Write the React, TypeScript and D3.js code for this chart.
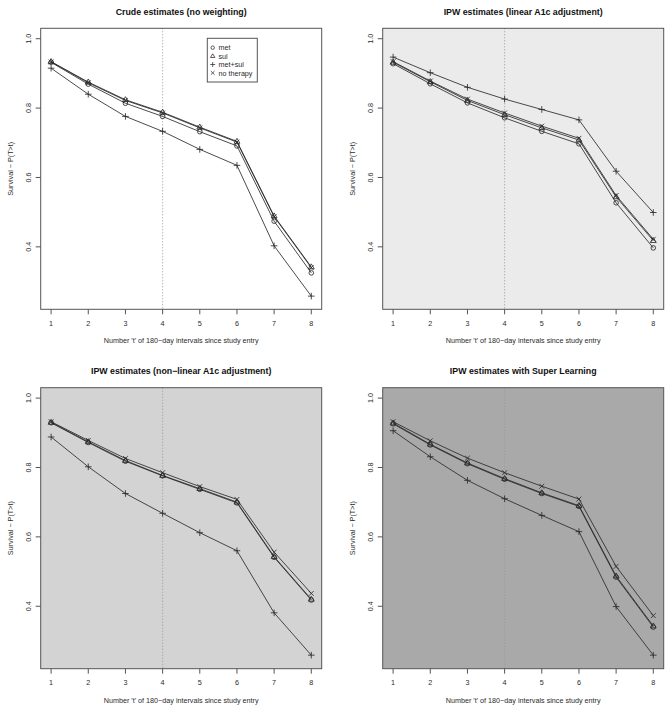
import React from "react";
import * as d3 from "d3";

const intervals = [1, 2, 3, 4, 5, 6, 7, 8];
const seriesNames = ["met", "sul", "met+sul", "no therapy"];
const yTicks = [0.4, 0.6, 0.8, 1.0];

// Crude estimates
const crudeMet = [0.932, 0.869, 0.814, 0.776, 0.732, 0.691, 0.474, 0.325];
const crudeSul = [0.934, 0.875, 0.824, 0.788, 0.745, 0.704, 0.489, 0.342];
const crudeMetSul = [0.915, 0.84, 0.776, 0.733, 0.681, 0.635, 0.403, 0.258];
const crudeNone = [0.933, 0.873, 0.822, 0.786, 0.743, 0.702, 0.487, 0.34];

// IPW linear
const linMet = [0.928, 0.87, 0.815, 0.772, 0.733, 0.697, 0.527, 0.397];
const linSul = [0.932, 0.876, 0.822, 0.781, 0.743, 0.708, 0.544, 0.418];
const linMetSul = [0.947, 0.902, 0.86, 0.826, 0.796, 0.766, 0.618, 0.499];
const linNone = [0.934, 0.878, 0.826, 0.786, 0.748, 0.713, 0.548, 0.422];

// IPW non-linear
const nlMet = [0.929, 0.872, 0.818, 0.776, 0.737, 0.698, 0.541, 0.418];
const nlSul = [0.93, 0.874, 0.82, 0.777, 0.739, 0.7, 0.543, 0.42];
const nlMetSul = [0.888, 0.802, 0.725, 0.668, 0.612, 0.56, 0.381, 0.259];
const nlNone = [0.932, 0.878, 0.826, 0.785, 0.745, 0.708, 0.556, 0.437];

// IPW super learning
const slMet = [0.926, 0.865, 0.811, 0.766, 0.725, 0.688, 0.484, 0.34];
const slSul = [0.928, 0.867, 0.813, 0.768, 0.727, 0.69, 0.487, 0.343];
const slMetSul = [0.906, 0.831, 0.763, 0.71, 0.662, 0.615, 0.399, 0.259];
const slNone = [0.932, 0.877, 0.827, 0.785, 0.746, 0.709, 0.515, 0.373];

const titles = [
  "Crude estimates (no weighting)",
  "IPW estimates (linear A1c adjustment)",
  "IPW estimates (non\u2212linear A1c adjustment)",
  "IPW estimates with Super Learning",
];
const backgrounds = ["#ffffff", "#ebebeb", "#d3d3d3", "#a9a9a9"];

const panelData = [
  [crudeMet, crudeSul, crudeMetSul, crudeNone],
  [linMet, linSul, linMetSul, linNone],
  [nlMet, nlSul, nlMetSul, nlNone],
  [slMet, slSul, slMetSul, slNone],
];

const FONT = "'Liberation Sans', Arial, Helvetica, sans-serif";
const INK = "#2a2a2a";
const AXIS = "#555";

function symbolPath(kind: number, x: number, y: number, k = 1): string {
  if (kind === 0) {
    const r = 2.3 * k;
    return `M${x - r},${y}a${r},${r} 0 1,0 ${2 * r},0a${r},${r} 0 1,0 ${-2 * r},0`;
  }
  if (kind === 1) {
    const h = 3.1 * k;
    return `M${x},${y - h}L${x + h * 0.95},${y + h * 0.6}L${x - h * 0.95},${y + h * 0.6}Z`;
  }
  if (kind === 2) {
    const s = 3.3 * k;
    return `M${x - s},${y}L${x + s},${y}M${x},${y - s}L${x},${y + s}`;
  }
  const s = 2.4 * k;
  return `M${x - s},${y - s}L${x + s},${y + s}M${x - s},${y + s}L${x + s},${y - s}`;
}

function Panel({ idx, left, top }: { idx: number; left: number; top: number }) {
  const w = 281;
  const h = 281;
  const x = d3.scaleLinear().domain([0.72, 8.28]).range([left, left + w]);
  const y = d3.scaleLinear().domain([0.22, 1.03]).range([top + h, top]);
  const line = d3
    .line<number>()
    .x((_, i) => x(intervals[i]))
    .y((v) => y(v));
  const data = panelData[idx];
  const cx = left + w / 2;
  return (
    <g>
      <rect x={left} y={top} width={w} height={h} fill={backgrounds[idx]} />
      <line
        x1={x(4)}
        x2={x(4)}
        y1={top}
        y2={top + h}
        stroke="#999"
        strokeWidth={1}
        strokeDasharray="1,2"
      />
      {data.map((s, si) => (
        <g key={si}>
          <path d={line(s) || ""} fill="none" stroke={INK} strokeWidth={0.85} />
          {s.map((v, i) => (
            <path
              key={i}
              d={symbolPath(si, x(intervals[i]), y(v))}
              fill="none"
              stroke={INK}
              strokeWidth={0.85}
            />
          ))}
        </g>
      ))}
      <rect x={left} y={top} width={w} height={h} fill="none" stroke={AXIS} strokeWidth={1} />
      {intervals.map((t) => (
        <g key={t}>
          <line x1={x(t)} x2={x(t)} y1={top + h} y2={top + h + 5} stroke={AXIS} />
          <text
            x={x(t)}
            y={top + h + 16.5}
            textAnchor="middle"
            fontSize={7.2}
            fontFamily={FONT}
            fill={INK}
          >
            {t}
          </text>
        </g>
      ))}
      {yTicks.map((t) => (
        <g key={t}>
          <line x1={left - 5} x2={left} y1={y(t)} y2={y(t)} stroke={AXIS} />
          <text
            transform={`translate(${left - 10},${y(t)}) rotate(-90)`}
            textAnchor="middle"
            fontSize={7.2}
            fontFamily={FONT}
            fill={INK}
          >
            {t.toFixed(1)}
          </text>
        </g>
      ))}
      <text
        x={cx}
        y={top + h + 34}
        textAnchor="middle"
        fontSize={7.2}
        fontFamily={FONT}
        fill={INK}
      >
        Number 't' of 180{"\u2212"}day intervals since study entry
      </text>
      <text
        transform={`translate(${left - 28},${top + h / 2}) rotate(-90)`}
        textAnchor="middle"
        fontSize={7.2}
        fontFamily={FONT}
        fill={INK}
      >
        Survival {"\u2212"} P(T{">"}t)
      </text>
      <text
        x={cx}
        y={top - 13.5}
        textAnchor="middle"
        fontSize={8.8}
        fontWeight="bold"
        fontFamily={FONT}
        fill="#111"
      >
        {titles[idx]}
      </text>
      {idx === 0 && (
        <g>
          <rect x={207.3} y={38.3} width={50} height={43.7} fill="#fff" stroke={AXIS} />
          {seriesNames.map((n, i) => (
            <g key={n}>
              <path
                d={symbolPath(i, 212.7, 47.7 + i * 8.4, 0.75)}
                fill="none"
                stroke={INK}
                strokeWidth={0.75}
              />
              <text x={218.5} y={47.7 + i * 8.4 + 2.6} fontSize={7.2} fontFamily={FONT} fill={INK}>
                {n}
              </text>
            </g>
          ))}
        </g>
      )}
    </g>
  );
}

export default function App() {
  return (
    <svg
      width={672}
      height={712}
      style={{ position: "absolute", left: 0, top: 0, background: "#fff" }}
    >
      <rect x={0} y={0} width={672} height={712} fill="#fff" />
      <Panel idx={0} left={40.7} top={28.3} />
      <Panel idx={1} left={382.7} top={28.3} />
      <Panel idx={2} left={40.7} top={387.7} />
      <Panel idx={3} left={382.7} top={387.7} />
    </svg>
  );
}
